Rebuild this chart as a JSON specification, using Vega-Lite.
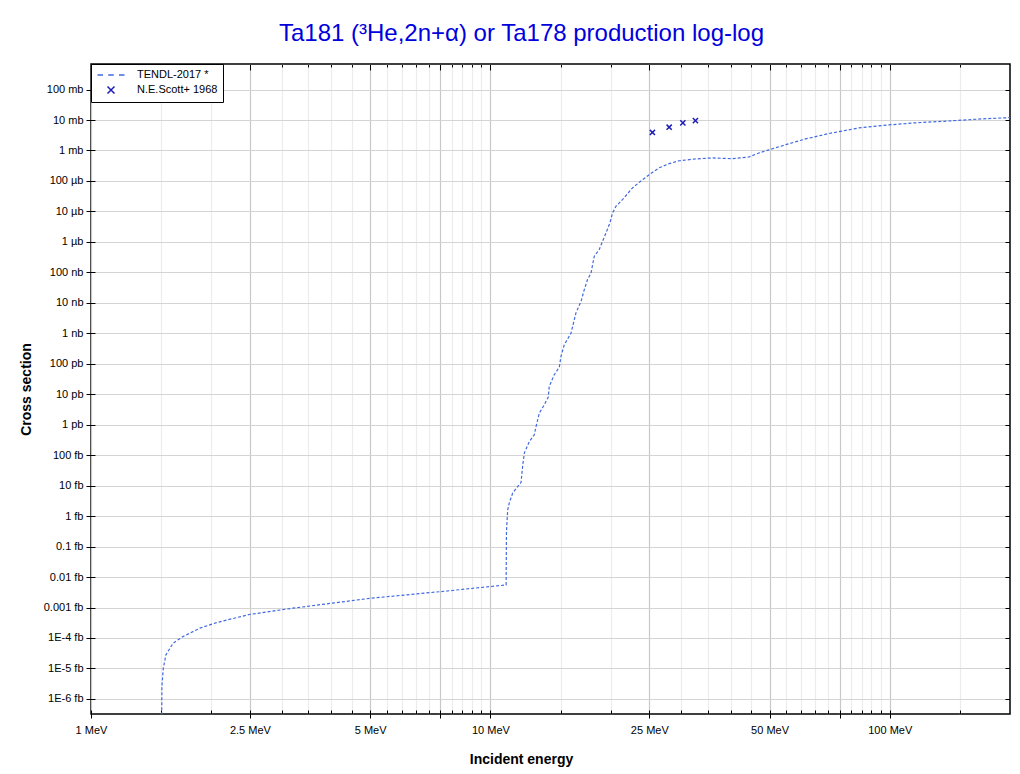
{
  "$schema": "https://vega.github.io/schema/vega-lite/v6.json",
  "autosize": "none",
  "width": 919,
  "height": 650,
  "padding": {"left": 91, "top": 64, "right": 10, "bottom": 60},
  "background": "white",
  "config": {
    "font": "Liberation Sans",
    "view": {"stroke": "#000", "strokeWidth": 1.5},
    "axis": {"labelFont": "Liberation Sans", "titleFont": "Liberation Sans", "labelColor": "#000", "titleColor": "#000", "tickColor": "#000", "domain": false}
  },
  "title": {"text": "Ta181 (³He,2n+α) or Ta178 production log-log", "fontSize": 24, "font": "Liberation Sans", "fontWeight": "normal", "color": "#0000dd", "anchor": "middle", "frame": "group", "dx": -29, "offset": -1, "baseline": "alphabetic"},
  "datasets": {
    "tendl": [
      {"energy": 1.499, "xs": 1e-21},
      {"energy": 1.505, "xs": 2.5e-18},
      {"energy": 1.517, "xs": 1.0e-17},
      {"energy": 1.54, "xs": 2.8e-17},
      {"energy": 1.606, "xs": 6.8e-17},
      {"energy": 1.701, "xs": 1.12e-16},
      {"energy": 1.873, "xs": 2.1e-16},
      {"energy": 2.062, "xs": 3.2e-16},
      {"energy": 2.49, "xs": 5.9e-16},
      {"energy": 3.2, "xs": 9.5e-16},
      {"energy": 4.99, "xs": 2.0e-15},
      {"energy": 7.46, "xs": 3.3e-15},
      {"energy": 10.95, "xs": 5.5e-15},
      {"energy": 10.97, "xs": 3.0e-13},
      {"energy": 11.05, "xs": 1.6e-12},
      {"energy": 11.15, "xs": 2.7e-12},
      {"energy": 11.37, "xs": 5.7e-12},
      {"energy": 11.7, "xs": 9.3e-12},
      {"energy": 11.93, "xs": 1.26e-11},
      {"energy": 12.04, "xs": 4.2e-11},
      {"energy": 12.16, "xs": 1.17e-10},
      {"energy": 12.52, "xs": 2.82e-10},
      {"energy": 12.88, "xs": 4.68e-10},
      {"energy": 13.01, "xs": 8.7e-10},
      {"energy": 13.26, "xs": 2.4e-9},
      {"energy": 13.65, "xs": 4.57e-9},
      {"energy": 13.96, "xs": 8.1e-9},
      {"energy": 14.04, "xs": 1.8e-8},
      {"energy": 14.45, "xs": 4.36e-8},
      {"energy": 14.88, "xs": 7.8e-8},
      {"energy": 15.02, "xs": 1.74e-7},
      {"energy": 15.31, "xs": 4.2e-7},
      {"energy": 15.91, "xs": 1.0e-6},
      {"energy": 16.38, "xs": 4.7e-6},
      {"energy": 16.86, "xs": 1.1e-5},
      {"energy": 17.18, "xs": 2.7e-5},
      {"energy": 17.51, "xs": 5.8e-5},
      {"energy": 17.86, "xs": 9.5e-5},
      {"energy": 18.2, "xs": 3.4e-4},
      {"energy": 18.73, "xs": 5.6e-4},
      {"energy": 19.09, "xs": 1.05e-3},
      {"energy": 19.47, "xs": 1.96e-3},
      {"energy": 19.92, "xs": 4.2e-3},
      {"energy": 20.22, "xs": 8.9e-3},
      {"energy": 20.62, "xs": 1.47e-2},
      {"energy": 21.42, "xs": 2.45e-2},
      {"energy": 22.69, "xs": 5.9e-2},
      {"energy": 24.03, "xs": 0.11},
      {"energy": 24.97, "xs": 0.16},
      {"energy": 26.46, "xs": 0.27},
      {"energy": 28.03, "xs": 0.37},
      {"energy": 29.69, "xs": 0.46},
      {"energy": 32.68, "xs": 0.53},
      {"energy": 35.96, "xs": 0.57},
      {"energy": 40.35, "xs": 0.54},
      {"energy": 44.41, "xs": 0.61},
      {"energy": 47.03, "xs": 0.83},
      {"energy": 49.83, "xs": 1.05},
      {"energy": 54.87, "xs": 1.55},
      {"energy": 61.55, "xs": 2.4},
      {"energy": 70.39, "xs": 3.6},
      {"energy": 83.6, "xs": 5.5},
      {"energy": 99.4, "xs": 6.9},
      {"energy": 115.9, "xs": 8.1},
      {"energy": 140.4, "xs": 9.3},
      {"energy": 170.1, "xs": 10.9},
      {"energy": 200, "xs": 12.0}
    ],
    "scott": [
      {"energy": 25.45, "xs": 3.9, "series": "N.E.Scott+ 1968"},
      {"energy": 28.03, "xs": 5.8, "series": "N.E.Scott+ 1968"},
      {"energy": 30.33, "xs": 8.1, "series": "N.E.Scott+ 1968"},
      {"energy": 32.61, "xs": 9.6, "series": "N.E.Scott+ 1968"}
    ]
  },
  "layer": [
    {
      "data": {"name": "tendl"},
      "mark": {"type": "line", "clip": true, "color": "#4169e1", "strokeDash": [3, 2], "strokeWidth": 1.2},
      "encoding": {
        "x": {
          "field": "energy", "type": "quantitative",
          "scale": {"type": "log", "domain": [1, 200]},
          "axis": {
            "orient": "bottom",
            "title": "Incident energy", "titleFontSize": 14, "titleFontWeight": "bold",
            "titleX": 430, "titleY": 53, "titleBaseline": "alphabetic", "titleAnchor": "middle",
            "values": [1,1.5,2,2.5,3,3.5,4,4.5,5,5.5,6,6.5,7,7.5,8,8.5,9,9.5,10,15,20,25,30,35,40,45,50,55,60,65,70,75,80,85,90,95,100,150],
            "offset": -4,
            "tickSize": {"condition": {"test": "indexof([1,2.5,5,7.5,10,25,50,75,100], datum.value) >= 0", "value": 8}, "value": 4},
            "grid": true,
            "gridColor": {"condition": {"test": "indexof([1,2.5,5,7.5,10,25,50,75,100], datum.value) >= 0", "value": "#c8c8c8"}, "value": "#ececec"},
            "gridWidth": 1.2,
            "labelExpr": "indexof([1,2.5,5,10,25,50,100], datum.value) >= 0 ? datum.value + ' MeV' : ''",
            "labelFontSize": 11, "labelPadding": 6, "labelOverlap": false, "labelFlush": false, "labelBound": false
          }
        },
        "y": {
          "field": "xs", "type": "quantitative",
          "scale": {"type": "log", "domain": [3.2e-19, 690]},
          "axis": {
            "orient": "left",
            "title": "Cross section", "titleFontSize": 14, "titleFontWeight": "bold",
            "titleX": -65, "titleY": 325, "titleBaseline": "alphabetic", "titleAnchor": "middle",
            "values": [1e-18,1e-17,1e-16,1e-15,1e-14,1e-13,1e-12,1e-11,1e-10,1e-9,1e-8,1e-7,1e-6,1e-5,1e-4,1e-3,1e-2,1e-1,1,10,100],
            "offset": -4, "tickSize": 9,
            "grid": true, "gridColor": "#d4d4d4", "gridWidth": 1.2,
            "labelExpr": "['1E-6 fb','1E-5 fb','1E-4 fb','0.001 fb','0.01 fb','0.1 fb','1 fb','10 fb','100 fb','1 pb','10 pb','100 pb','1 nb','10 nb','100 nb','1 µb','10 µb','100 µb','1 mb','10 mb','100 mb'][round(log(datum.value)/LN10)+18]",
            "labelFontSize": 11, "labelPadding": 3, "labelOverlap": false, "labelFlush": false, "labelBound": false
          }
        }
      }
    },
    {
      "data": {"name": "scott"},
      "mark": {"type": "point", "filled": false, "size": 55, "strokeWidth": 1.5, "opacity": 1},
      "encoding": {
        "x": {
          "field": "energy", "type": "quantitative",
          "scale": {"type": "log", "domain": [1, 200]},
          "axis": {
            "orient": "top", "title": null, "labels": false, "grid": false,
            "values": [1,1.5,2,2.5,3,3.5,4,4.5,5,5.5,6,6.5,7,7.5,8,8.5,9,9.5,10,15,20,25,30,35,40,45,50,55,60,65,70,75,80,85,90,95,100,150],
            "tickSize": {"condition": {"test": "indexof([1,2.5,5,7.5,10,25,50,75,100], datum.value) >= 0", "value": -6}, "value": -3}
          }
        },
        "y": {
          "field": "xs", "type": "quantitative",
          "scale": {"type": "log", "domain": [3.2e-19, 690]},
          "axis": {
            "orient": "right", "title": null, "labels": false, "grid": false,
            "values": [1e-18,1e-17,1e-16,1e-15,1e-14,1e-13,1e-12,1e-11,1e-10,1e-9,1e-8,1e-7,1e-6,1e-5,1e-4,1e-3,1e-2,1e-1,1,10,100],
            "tickSize": -5
          }
        },
        "color": {
          "field": "series", "type": "nominal",
          "scale": {"domain": ["TENDL-2017 *", "N.E.Scott+ 1968"], "range": ["#4169e1", "#1e1eb4"]},
          "legend": {"orient": "none", "legendX": 0, "legendY": 0, "title": null, "strokeColor": "#000", "fillColor": "#fff", "padding": 5, "labelFontSize": 11, "labelFont": "Liberation Sans", "symbolSize": 100, "symbolStrokeWidth": 1.5, "symbolOffset": 9, "labelOffset": 20, "rowPadding": 3}
        },
        "shape": {
          "field": "series", "type": "nominal",
          "scale": {"domain": ["TENDL-2017 *", "N.E.Scott+ 1968"], "range": ["M-2.7,0H-1.6M-0.55,0H0.55M1.6,0H2.7", "M-0.7,-0.7L0.7,0.7M-0.7,0.7L0.7,-0.7"]},
          "legend": {"orient": "none", "legendX": 0, "legendY": 0, "title": null, "strokeColor": "#000", "fillColor": "#fff", "padding": 5, "labelFontSize": 11, "labelFont": "Liberation Sans", "symbolSize": 100, "symbolStrokeWidth": 1.5, "symbolOffset": 9, "labelOffset": 20, "rowPadding": 3}
        }
      }
    }
  ],
  "resolve": {"axis": {"x": "independent", "y": "independent"}}
}
